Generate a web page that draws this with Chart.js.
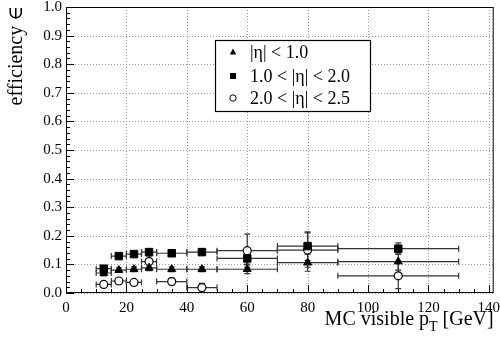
<!DOCTYPE html>
<html>
<head>
<meta charset="utf-8">
<script src="https://cdn.jsdelivr.net/npm/chart.js@4.4.0/dist/chart.umd.min.js"></script>
<style>
  html, body { margin: 0; padding: 0; background: #fff; }
</style>
</head>
<body>
<canvas id="c" width="500" height="339"></canvas>
<script>
// pT bins (GeV)
const ptCenter = [12.5, 17.5, 22.5, 27.5, 35, 45, 60, 80, 110];
const binLow   = [10, 15, 20, 25, 30, 40, 50, 70, 90];
const binHigh  = [15, 20, 25, 30, 40, 50, 70, 90, 130];

// efficiency per eta region
const effBarrel = [0.070, 0.080, 0.083, 0.088, 0.083, 0.083, 0.083, 0.106, 0.110];
const errBarrel = [0.010, 0.008, 0.008, 0.010, 0.008, 0.008, 0.015, 0.030, 0.030];
const effMid    = [0.085, 0.129, 0.136, 0.143, 0.139, 0.143, 0.121, 0.164, 0.155];
const errMid    = [0.010, 0.008, 0.008, 0.008, 0.008, 0.010, 0.020, 0.050, 0.020];
const effFwd    = [0.030, 0.042, 0.037, 0.110, 0.040, 0.019, 0.148, 0.150, 0.060];
const errFwd    = [0.010, 0.010, 0.010, 0.020, 0.012, 0.015, 0.058, 0.060, 0.045];

const xTicks = [0, 20, 40, 60, 80, 100, 120, 140];
const yTicks = [0, 0.1, 0.2, 0.3, 0.4, 0.5, 0.6, 0.7, 0.8, 0.9, 1.0];
const legendLabels = ['|η| < 1.0', '1.0 < |η| < 2.0', '2.0 < |η| < 2.5'];

const pts = (eff, err) => ptCenter.map((x, i) => ({ x, y: eff[i], xMin: binLow[i], xMax: binHigh[i], yErr: err[i] }));

const SERIF = '"Liberation Serif", "DejaVu Serif", serif';

// dotted grid, frame + inward ticks, ROOT style
const frame = {
  id: 'frame',
  beforeDatasetsDraw(chart) {
    const { ctx, chartArea: a, scales: { x, y } } = chart;
    ctx.save();
    ctx.strokeStyle = '#9a9a9a';
    ctx.lineWidth = 1;
    ctx.setLineDash([1, 2]);
    ctx.beginPath();
    x.ticks.forEach(t => {
      const px = Math.round(x.getPixelForValue(t.value)) + 0.5;
      ctx.moveTo(px, a.top); ctx.lineTo(px, a.bottom);
    });
    y.ticks.forEach(t => {
      const py = Math.round(y.getPixelForValue(t.value)) + 0.5;
      ctx.moveTo(a.left, py); ctx.lineTo(a.right, py);
    });
    ctx.stroke();
    ctx.setLineDash([]);

    ctx.strokeStyle = '#000';
    ctx.strokeRect(a.left + 0.5, a.top + 0.5, a.right - a.left - 1, a.bottom - a.top - 1);
    ctx.beginPath();
    for (let i = 0; i <= 50; i++) {
      const py = Math.round(y.getPixelForValue(i / 50)) + 0.5;
      const len = i % 5 === 0 ? 8 : 4;
      ctx.moveTo(a.left, py); ctx.lineTo(a.left + len, py);
    }
    for (let i = 0; i <= 28; i++) {
      const px = Math.round(x.getPixelForValue(i * 5)) + 0.5;
      const len = i % 4 === 0 ? 8 : 4;
      ctx.moveTo(px, a.bottom); ctx.lineTo(px, a.bottom - len);
    }
    ctx.stroke();
    ctx.restore();
  }
};

const errorBars = {
  id: 'errorBars',
  beforeDatasetsDraw(chart) {
    const { ctx, chartArea: a, scales: { x, y } } = chart;
    ctx.save();
    ctx.beginPath();
    ctx.rect(a.left, a.top, a.right - a.left, a.bottom - a.top);
    ctx.clip();
    ctx.strokeStyle = '#333';
    ctx.lineWidth = 1.2;
    const c = 3;
    chart.data.datasets.forEach(ds => {
      ds.data.forEach(p => {
        const px = x.getPixelForValue(p.x), py = y.getPixelForValue(p.y);
        const x0 = x.getPixelForValue(p.xMin), x1 = x.getPixelForValue(p.xMax);
        const y0 = y.getPixelForValue(p.y - p.yErr), y1 = y.getPixelForValue(p.y + p.yErr);
        ctx.beginPath();
        ctx.moveTo(x0, py); ctx.lineTo(x1, py);
        ctx.moveTo(x0, py - c); ctx.lineTo(x0, py + c);
        ctx.moveTo(x1, py - c); ctx.lineTo(x1, py + c);
        ctx.moveTo(px, y0); ctx.lineTo(px, y1);
        ctx.moveTo(px - c, y0); ctx.lineTo(px + c, y0);
        ctx.moveTo(px - c, y1); ctx.lineTo(px + c, y1);
        ctx.stroke();
      });
    });
    ctx.restore();
  }
};

const decorations = {
  id: 'decorations',
  afterDraw(chart) {
    const { ctx, chartArea: a } = chart;
    ctx.save();
    ctx.fillStyle = '#000';
    // y title
    ctx.save();
    ctx.translate(22, a.top - 1);
    ctx.rotate(-Math.PI / 2);
    ctx.font = '20px ' + SERIF;
    ctx.textAlign = 'right';
    ctx.textBaseline = 'alphabetic';
    ctx.fillText('efficiency ∈', 0, 0);
    ctx.restore();
    // x title with subscript
    ctx.textBaseline = 'alphabetic';
    ctx.textAlign = 'left';
    const t1 = 'MC visible p', sub = 'T', t2 = ' [GeV]';
    ctx.font = '20px ' + SERIF;
    const w1 = ctx.measureText(t1).width, w3 = ctx.measureText(t2).width;
    ctx.font = '14px ' + SERIF;
    const w2 = ctx.measureText(sub).width;
    const sx = a.right - (w1 + w2 + w3);
    const base = 325;
    ctx.font = '20px ' + SERIF;
    ctx.fillText(t1, sx, base);
    ctx.font = '14px ' + SERIF;
    ctx.fillText(sub, sx + w1, base + 6);
    ctx.font = '20px ' + SERIF;
    ctx.fillText(t2, sx + w1 + w2, base);

    // legend
    const lx = 215, ly = 40, lw = 155, lh = 71;
    ctx.fillStyle = '#fff';
    ctx.fillRect(lx, ly, lw, lh);
    ctx.strokeStyle = '#000';
    ctx.lineWidth = 1.2;
    ctx.strokeRect(lx + 0.5, ly + 0.5, lw, lh);
    const rows = [52, 76, 98];
    ctx.font = '18px ' + SERIF;
    ctx.textBaseline = 'middle';
    ctx.textAlign = 'left';
    chart.data.datasets.forEach((ds, i) => {
      const mx = 233, my = rows[i];
      ctx.fillStyle = '#000';
      ctx.strokeStyle = '#000';
      ctx.lineWidth = 1;
      ctx.beginPath();
      if (ds.pointStyle === 'triangle') {
        ctx.moveTo(mx, my - 3.5); ctx.lineTo(mx + 3.2, my + 2.5); ctx.lineTo(mx - 3.2, my + 2.5); ctx.closePath(); ctx.fill();
      } else if (ds.pointStyle === 'rect') {
        ctx.rect(mx - 3, my - 3, 6, 6); ctx.fill();
      } else {
        ctx.arc(mx, my, 3.2, 0, Math.PI * 2); ctx.fillStyle = '#fff'; ctx.fill(); ctx.stroke();
      }
      ctx.fillStyle = '#000';
      ctx.fillText(legendLabels[i], 250, my + 1);
    });
    ctx.restore();
  }
};

new Chart(document.getElementById('c'), {
  type: 'scatter',
  data: {
    datasets: [
      { label: legendLabels[0], data: pts(effBarrel, errBarrel), pointStyle: 'triangle', pointRadius: 4.6,
        backgroundColor: '#000', borderColor: '#000', borderWidth: 1 },
      { label: legendLabels[1], data: pts(effMid, errMid), pointStyle: 'rect', pointRadius: 5.3,
        backgroundColor: '#000', borderColor: '#000', borderWidth: 1 },
      { label: legendLabels[2], data: pts(effFwd, errFwd), pointStyle: 'circle', pointRadius: 4,
        backgroundColor: '#fff', borderColor: '#000', borderWidth: 1.2 }
    ]
  },
  options: {
    responsive: false,
    animation: false,
    devicePixelRatio: 1,
    layout: { padding: { left: 0, top: 7, right: 4, bottom: 0 } },
    plugins: { legend: { display: false }, tooltip: { enabled: false } },
    scales: {
      x: {
        type: 'linear', min: 0, max: 141.6,
        afterFit: s => { s.height = 46; s.paddingLeft = 0; s.paddingRight = 0; },
        afterBuildTicks: s => { s.ticks = xTicks.map(v => ({ value: v })); },
        grid: { display: false, drawTicks: false },
        border: { display: false },
        ticks: { padding: 6, color: '#000', font: { family: SERIF, size: 15 }, maxRotation: 0, autoSkip: false }
      },
      y: {
        type: 'linear', min: 0, max: 1,
        afterFit: s => { s.width = 66; s.paddingTop = 0; s.paddingBottom = 0; },
        afterBuildTicks: s => { s.ticks = yTicks.map(v => ({ value: v })); },
        grid: { display: false, drawTicks: false },
        border: { display: false },
        ticks: { padding: 4, color: '#000', font: { family: SERIF, size: 15 }, callback: v => v.toFixed(1) }
      }
    }
  },
  plugins: [frame, errorBars, decorations]
});
</script>
</body>
</html>
